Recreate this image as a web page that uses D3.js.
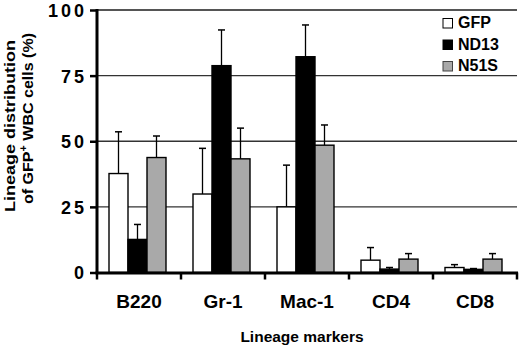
<!DOCTYPE html>
<html lang="en">
<head>
    <meta charset="UTF-8">
    <title>Lineage distribution of GFP+ WBC cells</title>
    <script src="https://d3js.org/d3.v7.min.js"></script>
    <style>
        body { margin: 0; background: #fff; font-family: Arial, "Liberation Sans", sans-serif; }
        text { font-weight: bold; fill: #000; }
    </style>
</head>
<body>
    <svg width="520" height="346"></svg>

    <script>
        const categories = ["B220", "Gr-1", "Mac-1", "CD4", "CD8"];
        const seriesNames = ["GFP", "ND13", "N51S"];
        const gfp      = [37.7, 29.9, 25.0, 4.7, 1.9];
        const gfpErr   = [53.6, 47.3, 40.9, 9.5, 3.0];
        const nd13     = [12.6, 78.8, 82.2, 1.3, 1.2];
        const nd13Err  = [18.3, 92.4, 94.3, 1.9, 1.5];
        const n51s     = [43.8, 43.3, 48.5, 5.1, 5.1];
        const n51sErr  = [52.0, 55.0, 56.2, 7.2, 7.2];
        const yTicks = [0, 25, 50, 75, 100];

        const colors = { GFP: "#ffffff", ND13: "#000000", N51S: "#a9a9a9" };
        const values = { GFP: gfp, ND13: nd13, N51S: n51s };
        const errTops = { GFP: gfpErr, ND13: nd13Err, N51S: n51sErr };

        const plotLeft = 97, plotRight = 517, plotTop = 10, plotBottom = 272.5;
        const svg = d3.select("svg");

        const x = d3.scaleBand().domain(categories).range([plotLeft, plotRight]);
        const xs = d3.scaleBand().domain(seriesNames).range([12, 69]);
        const y = d3.scaleLinear().domain([0, 100]).range([plotBottom, plotTop]);

        // gridlines
        svg.append("g").selectAll("line")
            .data(yTicks.filter(d => d > 0))
            .join("line")
            .attr("x1", plotLeft).attr("x2", plotRight)
            .attr("y1", d => y(d)).attr("y2", d => y(d))
            .attr("stroke", d => d === 100 ? "#555" : "#333")
            .attr("stroke-width", d => d === 100 ? 2 : 1.3);

        // bars
        const rows = [];
        categories.forEach((c, i) => seriesNames.forEach(s => {
            rows.push({ cat: c, s: s, v: values[s][i], e: errTops[s][i] });
        }));

        svg.append("g").selectAll("line")
            .data(rows)
            .join("line")
            .attr("x1", d => x(d.cat) + xs(d.s) + xs.bandwidth() / 2)
            .attr("x2", d => x(d.cat) + xs(d.s) + xs.bandwidth() / 2)
            .attr("y1", d => y(d.v)).attr("y2", d => y(d.e))
            .attr("stroke", "#000").attr("stroke-width", 1.3);

        svg.append("g").selectAll("line")
            .data(rows)
            .join("line")
            .attr("x1", d => x(d.cat) + xs(d.s) + xs.bandwidth() / 2 - 3.5)
            .attr("x2", d => x(d.cat) + xs(d.s) + xs.bandwidth() / 2 + 3.5)
            .attr("y1", d => y(d.e)).attr("y2", d => y(d.e))
            .attr("stroke", "#000").attr("stroke-width", 1.5);

        svg.append("g").selectAll("rect")
            .data(rows)
            .join("rect")
            .attr("x", d => x(d.cat) + xs(d.s))
            .attr("width", xs.bandwidth())
            .attr("y", d => y(d.v))
            .attr("height", d => y(0) - y(d.v))
            .attr("fill", d => colors[d.s])
            .attr("stroke", "#000")
            .attr("stroke-width", 1.4);

        // y axis
        const yAxis = svg.append("g")
            .attr("transform", `translate(${plotLeft},0)`)
            .call(d3.axisLeft(y).tickValues(yTicks).tickSize(7).tickPadding(6));
        yAxis.select(".domain").attr("stroke-width", 3).attr("d", `M0,${plotTop - 1}V${plotBottom + 1.5}`);
        yAxis.selectAll(".tick line").attr("stroke-width", 2.5);
        yAxis.selectAll(".tick text")
            .style("font-size", "18px").style("font-weight", "bold")
            .style("letter-spacing", "3px").attr("dx", 3).attr("dy", "0.36em");

        // x axis
        const xAxis = svg.append("g")
            .attr("transform", `translate(0,${plotBottom + 0.5})`)
            .call(d3.axisBottom(x).tickSize(0).tickPadding(22));
        xAxis.select(".domain").attr("stroke-width", 3).attr("d", `M${plotLeft - 1.5},0H${plotRight + 1}`);
        xAxis.selectAll(".tick text").style("font-size", "19px").style("font-weight", "bold");
        svg.append("g").selectAll("line")
            .data(categories.map(c => x(c)).concat([x(categories[categories.length - 1]) + x.bandwidth()]))
            .join("line")
            .attr("x1", d => d).attr("x2", d => d)
            .attr("y1", plotBottom).attr("y2", plotBottom + 7)
            .attr("stroke", "#000").attr("stroke-width", 2.5);

        svg.append("text")
            .attr("x", 302).attr("y", 342)
            .attr("text-anchor", "middle")
            .style("font-size", "15.5px")
            .text("Lineage markers");

        // y title
        svg.append("text")
            .attr("transform", "translate(15,126) rotate(-90)")
            .attr("text-anchor", "middle")
            .attr("textLength", 172).attr("lengthAdjust", "spacingAndGlyphs")
            .style("font-size", "15px")
            .text("Lineage distribution");
        const t2 = svg.append("text")
            .attr("transform", "translate(33,118.5) rotate(-90)")
            .attr("text-anchor", "middle")
            .attr("textLength", 171).attr("lengthAdjust", "spacingAndGlyphs")
            .style("font-size", "15px");
        t2.append("tspan").text("of GFP");
        t2.append("tspan").attr("dy", -6).style("font-size", "10px").text("+");
        t2.append("tspan").attr("dy", 6).text(" WBC cells (%)");

        // legend
        const legend = svg.append("g").selectAll("g")
            .data(seriesNames)
            .join("g")
            .attr("transform", (d, i) => `translate(443,${18.5 + i * 21.5})`);
        legend.append("rect")
            .attr("width", 9.5).attr("height", 9.5)
            .attr("fill", d => colors[d])
            .attr("stroke", d => d === "N51S" ? "#444" : "#000")
            .attr("stroke-width", 1);
        legend.append("text")
            .attr("x", 15).attr("y", 9.8)
            .style("font-size", "16px")
            .text(d => d);
    </script>
</body>
</html>
